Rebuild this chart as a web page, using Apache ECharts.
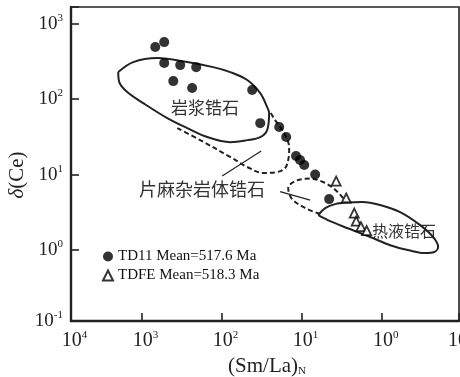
<!DOCTYPE html>
<html><head><meta charset="utf-8">
<script src="https://cdn.jsdelivr.net/npm/echarts@6/dist/echarts.min.js"></script>
<style>html,body{margin:0;padding:0;background:#fff}#c{width:460px;height:377px}</style>
</head><body><div id="c"></div>
<script>
// ---- data: [(Sm/La)N, δ(Ce)] ----
const td11Name = 'TD11 Mean=517.6 Ma';
const tdfeName = 'TDFE Mean=518.3 Ma';
const td11 = [[682,489],[527,569],[527,300],[333,282],[210,265],[406,173],[236,140],[42,132],
  [33.3,48],[19.3,42.6],[15.8,31.4],[11.9,17.6],[10.6,15.6],[9.4,13.4],[6.86,10],[4.59,4.73]];
const tdfe = [[3.75,8.2],[2.81,4.89],[2.23,3.09],[2.11,2.42],[1.84,2.04],[1.56,1.81]];

// field outlines (data space)
const magmaticField = [[1977,228],[1285,309],[644,349],[272,309],[129,265],[79,228],[48.4,179],[33.3,120],
  [27.3,78.4],[25.8,65.3],[27.3,38.9],[33.3,31.4],[48.4,28.6],[79,26.9],[153,31.4],[272,41.3],[483,56],
  [964,88.5],[1527,124],[1919,168],[1977,228]];
const gneissTrend = [[362,41.3],[187,28.6],[79,17.1],[48.4,12.6],[30.6,10.5],[20.5,10.8],[16.3,12.2],
  [14.9,15.6],[14.5,21.1],[14.9,26.9],[17.7,38.8],[21.7,52.7],[25,67.3]];
const gneissLoop = [[5.94,3.0],[9.14,3.6],[13.3,4.73],[14.9,6.62],[12.2,8.2],[7.92,8.85],[5.45,7.96],
  [4.08,6.62],[3.16,5.04],[2.81,4.2]];
const hydroField = [[6.28,2.91],[5.14,3.6],[3.86,4.06],[2.74,4.26],[1.78,4.32],[1.06,3.95],[0.596,3.18],
  [0.335,2.14],[0.231,1.49],[0.200,1.10],[0.224,0.942],[0.290,0.912],[0.447,0.984],[0.794,1.16],
  [1.41,1.49],[2.74,1.96],[4.46,2.42],[6.28,2.91]];
const leaderGneiss = [[99.5,9.55],[32.4,20.5]];
const leaderLoop = [[18.8,5.95],[7.92,4.59]];

// axis ranges (log10 extents read from the frame)
const xLogRange = [-0.96, 3.886];
const yLogRange = [-0.94, 3.22];

const serif = 'Liberation Serif, Times New Roman, serif';
const cjk = 'Noto Sans CJK SC, sans-serif';

function decadeLabel(v) {
  const l = Math.log10(v);
  const e = Math.round(l);
  if (Math.abs(l - e) > 0.15) return '';
  return '{b|10}{s|' + e + '}';
}

const chart = echarts.init(document.getElementById('c'), null, {renderer: 'canvas'});
const outline = (data, dashed, w) => ({
  type: 'line', data: data, symbol: 'none', silent: true, smooth: dashed === 'leader' ? false : 0.35,
  lineStyle: {color: '#222', width: w || 2, type: dashed === true ? [5, 3] : 'solid'},
  z: 2, legendHoverLink: false
});

chart.setOption({
  animation: false,
  backgroundColor: '#fff',
  grid: {left: 71, top: 7, right: 1, bottom: 56, containLabel: false, outerBoundsMode: 'none',
    show: true, borderColor: '#222', borderWidth: 1.6, backgroundColor: 'transparent'},
  xAxis: {
    type: 'log', inverse: true,
    min: Math.pow(10, xLogRange[0]), max: Math.pow(10, xLogRange[1]),
    axisLine: {show: true, onZero: false, lineStyle: {color: '#222', width: 2.4}},
    axisTick: {show: true, inside: true, length: 8, lineStyle: {color: '#222', width: 1.6}},
    splitLine: {show: false},
    axisLabel: {interval: 0, margin: 9, formatter: decadeLabel, color: '#222',
      rich: {b: {fontFamily: serif, fontSize: 20, color: '#222', padding: [0, 0, 0, 7], lineHeight: 22},
             s: {fontFamily: serif, fontSize: 11, color: '#222', verticalAlign: 'top', lineHeight: 12}}}
  },
  yAxis: {
    type: 'log',
    min: Math.pow(10, yLogRange[0]), max: Math.pow(10, yLogRange[1]),
    axisLine: {show: true, onZero: false, lineStyle: {color: '#222', width: 2.4}},
    axisTick: {show: true, inside: true, length: 8, lineStyle: {color: '#222', width: 1.6}},
    splitLine: {show: false},
    axisLabel: {interval: 0, margin: 8, formatter: decadeLabel, color: '#222',
      rich: {b: {fontFamily: serif, fontSize: 19, color: '#222', lineHeight: 22},
             s: {fontFamily: serif, fontSize: 11, color: '#222', verticalAlign: 'top', lineHeight: 12}}}
  },
  legend: {
    show: true, orient: 'vertical', left: 97, top: 244, itemWidth: 10, itemHeight: 10, itemGap: 4,
    textStyle: {fontFamily: serif, fontSize: 15, color: '#111', padding: [0, 0, 0, 0]},
    data: [{name: td11Name, icon: 'circle'}, {name: tdfeName, icon: 'triangle'}],
    selectedMode: false
  },
  graphic: [
    {type: 'text', x: 205, y: 108, style: {text: '岩浆锆石', font: '17px ' + cjk, fill: '#333', align: 'center', verticalAlign: 'middle'}},
    {type: 'text', x: 202, y: 189, style: {text: '片麻杂岩体锆石', font: '18px ' + cjk, fill: '#333', align: 'center', verticalAlign: 'middle'}},
    {type: 'text', x: 404, y: 231, style: {text: '热液锆石', font: '16px ' + cjk, fill: '#333', align: 'center', verticalAlign: 'middle'}},
    {type: 'text', x: 17, y: 175, rotation: Math.PI / 2,
      style: {text: '{i|δ}(Ce)', font: '21px ' + serif, fill: '#222', align: 'center', verticalAlign: 'middle',
        rich: {i: {fontFamily: serif, fontSize: 21, fontStyle: 'italic', fill: '#222'}}}},
    {type: 'text', x: 267, y: 366,
      style: {text: '(Sm/La){n|N}', font: '21px ' + serif, fill: '#222', align: 'center', verticalAlign: 'middle',
        rich: {n: {fontFamily: serif, fontSize: 11, fill: '#222', verticalAlign: 'bottom', lineHeight: 12}}}}
  ],
  series: [
    outline(magmaticField, false),
    outline(gneissTrend, true),
    outline(gneissLoop, true),
    outline(hydroField, false),
    outline(leaderGneiss, 'leader', 1.2),
    outline(leaderLoop, 'leader', 1.2),
    {type: 'scatter', name: td11Name, data: td11, symbol: 'circle', symbolSize: 10,
      itemStyle: {color: '#000'}, z: 5},
    {type: 'scatter', name: tdfeName, data: tdfe, symbol: 'triangle', symbolSize: 9,
      itemStyle: {color: '#fff', borderColor: '#000', borderWidth: 1.8}, z: 5}
  ]
});
</script>
</body></html>
